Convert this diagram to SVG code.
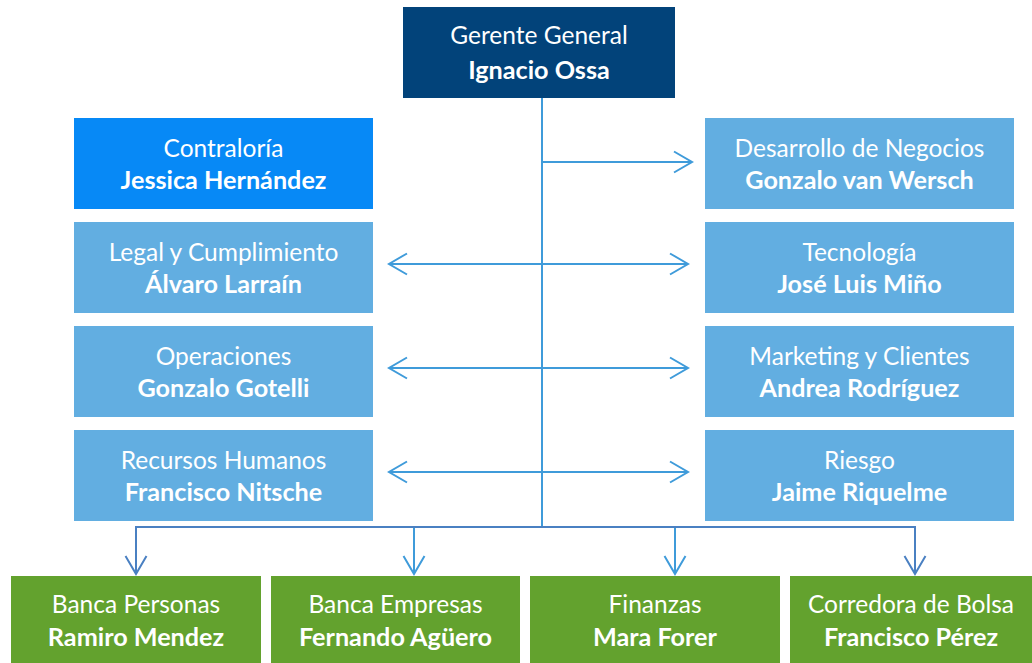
<svg xmlns="http://www.w3.org/2000/svg" width="1032" height="663" viewBox="0 0 1032 663">
<style>
.t{font-family:Lato,"Open Sans","Liberation Sans",sans-serif;font-size:24.5px;fill:#fff;text-anchor:middle}
.b{font-weight:bold;font-size:25.2px}
.navy{fill:#02437A}
.cb{fill:#0789F6}
.lb{fill:#62AEE1}
.gr{fill:#63A22E}
.ln{fill:none;stroke:#3F9BDA;stroke-width:2}
.ln2{fill:none;stroke:#4A80C2;stroke-width:2}
</style>
<defs>
<marker id="arr" viewBox="0 0 18 22" refX="18" refY="11" markerWidth="18" markerHeight="22" markerUnits="userSpaceOnUse" orient="auto-start-reverse" overflow="visible">
<path d="M0,0.5 L18,11 L0,21.5" fill="none" stroke="#3F9BDA" stroke-width="2"/>
</marker>
<marker id="arr2" viewBox="0 0 18 22" refX="18" refY="11" markerWidth="18" markerHeight="22" markerUnits="userSpaceOnUse" orient="auto" overflow="visible">
<path d="M0,0.5 L18,11 L0,21.5" fill="none" stroke="#4A80C2" stroke-width="2"/>
</marker>
</defs>
<rect width="1032" height="663" fill="#fff"/>
<g id="connectors">
<line class="ln" x1="542" y1="98" x2="542" y2="527"/>
<line class="ln" x1="542" y1="162" x2="692" y2="162" marker-end="url(#arr)"/>
<line class="ln" x1="389" y1="264" x2="688" y2="264" marker-start="url(#arr)" marker-end="url(#arr)"/>
<line class="ln" x1="389" y1="368" x2="688" y2="368" marker-start="url(#arr)" marker-end="url(#arr)"/>
<line class="ln" x1="389" y1="472" x2="688" y2="472" marker-start="url(#arr)" marker-end="url(#arr)"/>
<polyline class="ln2" points="136,573 136,527 915,527 915,573" />
<line class="ln2" x1="136" y1="527" x2="136" y2="574" marker-end="url(#arr2)"/>
<line class="ln2" x1="915" y1="527" x2="915" y2="574" marker-end="url(#arr2)"/>
<line class="ln" x1="414" y1="528" x2="414" y2="574" marker-end="url(#arr)"/>
<line class="ln" x1="675" y1="528" x2="675" y2="574" marker-end="url(#arr)"/>
</g>
<g id="gerente">
<rect class="navy" x="403" y="7" width="272" height="91"/>
<text class="t" x="539" y="44">Gerente General</text>
<text class="t b" x="539" y="79">Ignacio Ossa</text>
</g>
<g id="contraloria">
<rect class="cb" x="74" y="118" width="299" height="91"/>
<text class="t" x="223.5" y="157">Contraloría</text>
<text class="t b" x="223.5" y="188.5">Jessica Hernández</text>
</g>
<g id="legal">
<rect class="lb" x="74" y="222" width="299" height="91"/>
<text class="t" x="223.5" y="261">Legal y Cumplimiento</text>
<text class="t b" x="223.5" y="292.5">Álvaro Larraín</text>
</g>
<g id="operaciones">
<rect class="lb" x="74" y="326" width="299" height="91"/>
<text class="t" x="223.5" y="365">Operaciones</text>
<text class="t b" x="223.5" y="396.5">Gonzalo Gotelli</text>
</g>
<g id="rrhh">
<rect class="lb" x="74" y="430" width="299" height="91"/>
<text class="t" x="223.5" y="469">Recursos Humanos</text>
<text class="t b" x="223.5" y="500.5">Francisco Nitsche</text>
</g>
<g id="negocios">
<rect class="lb" x="705" y="118" width="309" height="91"/>
<text class="t" x="859.5" y="157">Desarrollo de Negocios</text>
<text class="t b" x="859.5" y="188.5">Gonzalo van Wersch</text>
</g>
<g id="tecnologia">
<rect class="lb" x="705" y="222" width="309" height="91"/>
<text class="t" x="859.5" y="261">Tecnología</text>
<text class="t b" x="859.5" y="292.5">José Luis Miño</text>
</g>
<g id="marketing">
<rect class="lb" x="705" y="326" width="309" height="91"/>
<text class="t" x="859.5" y="365">Marketing y Clientes</text>
<text class="t b" x="859.5" y="396.5">Andrea Rodríguez</text>
</g>
<g id="riesgo">
<rect class="lb" x="705" y="430" width="309" height="91"/>
<text class="t" x="859.5" y="469">Riesgo</text>
<text class="t b" x="859.5" y="500.5">Jaime Riquelme</text>
</g>
<g id="personas">
<rect class="gr" x="11" y="576" width="250" height="87"/>
<text class="t" x="136" y="613">Banca Personas</text>
<text class="t b" x="136" y="645.5">Ramiro Mendez</text>
</g>
<g id="empresas">
<rect class="gr" x="271" y="576" width="249" height="87"/>
<text class="t" x="395.5" y="613">Banca Empresas</text>
<text class="t b" x="395.5" y="645.5">Fernando Agüero</text>
</g>
<g id="finanzas">
<rect class="gr" x="530" y="576" width="250" height="87"/>
<text class="t" x="655" y="613">Finanzas</text>
<text class="t b" x="655" y="645.5">Mara Forer</text>
</g>
<g id="corredora">
<rect class="gr" x="790" y="576" width="242" height="87"/>
<text class="t" x="911" y="613">Corredora de Bolsa</text>
<text class="t b" x="911" y="645.5">Francisco Pérez</text>
</g>
</svg>
